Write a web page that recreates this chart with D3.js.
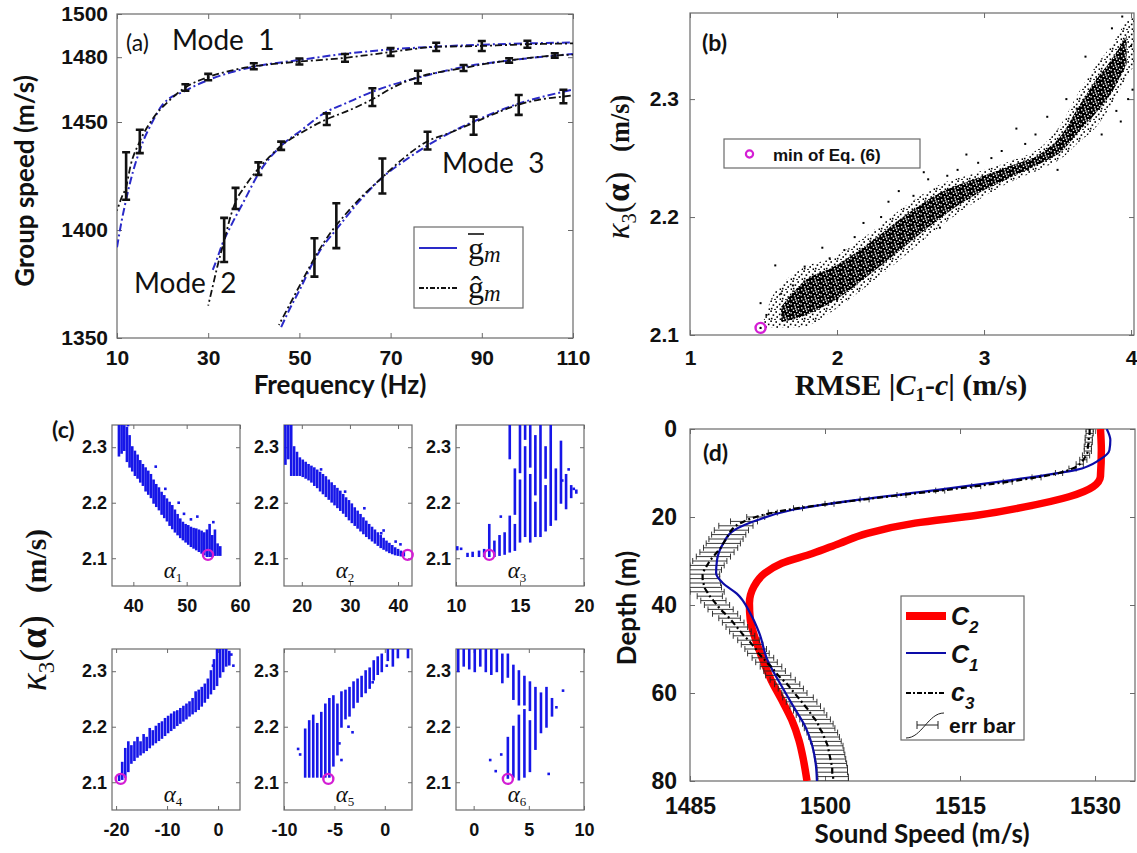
<!DOCTYPE html>
<html>
<head>
<meta charset="utf-8">
<script src="https://cdn.jsdelivr.net/npm/d3@7"></script>
<style>
  body { margin: 0; background: #fff; }
  svg { display: block; }
  text { white-space: pre; }
</style>
</head>
<body>
<svg id="fig" width="1137" height="853"></svg>
<script>
// ---------------- (a) group speed dispersion ----------------
const freqTicks = [10, 30, 50, 70, 90, 110];
const groupTicks = [1350, 1400, 1450, 1480, 1500];

// mean group speed (blue)
const mode1MeanF = [10, 11, 12, 13, 15, 18, 20, 25, 30, 35, 40, 50, 60, 70, 80, 90, 100, 110];
const mode1MeanG = [1392, 1404, 1414, 1423, 1437, 1451, 1458, 1464.5, 1469.4, 1473, 1475.6, 1478.7, 1481.6, 1483.6, 1484.9, 1485.8, 1486.4, 1486.8];
const mode2MeanF = [31, 32, 33, 35, 38, 41, 46, 50, 56, 60, 66, 70, 76, 86, 96, 110];
const mode2MeanG = [1381.5, 1387, 1393, 1402, 1414, 1426, 1439, 1445.5, 1454.8, 1458.5, 1464, 1467, 1470.5, 1475.5, 1478.5, 1481.5];
const mode3MeanF = [46, 48, 50, 53, 55, 58, 63, 68, 73, 78, 83, 88, 93, 98, 103, 110];
const mode3MeanG = [1355, 1364, 1372, 1385, 1392, 1400, 1413, 1424, 1432, 1439, 1445, 1450, 1454.5, 1458.5, 1461.5, 1465];

// estimated group speed (black dash-dot)
const mode1EstF = [10, 11, 12, 13, 15, 18, 21, 25, 30, 35, 40, 45, 50, 55, 60, 65, 70, 75, 80, 85, 90, 95, 100, 105, 110];
const mode1EstG = [1409, 1415, 1420, 1430, 1441, 1452, 1459, 1466, 1470.8, 1473.8, 1475.8, 1477, 1478, 1478.8, 1479.7, 1481, 1482.4, 1483.8, 1484.8, 1485, 1485.2, 1485.6, 1486, 1486.2, 1486.4];
const mode2EstF = [30, 31, 32, 33.5, 35, 36, 38, 41, 43.5, 46, 50, 56, 61, 66, 71, 76, 81, 86, 91, 96, 101, 106, 110];
const mode2EstG = [1365, 1374, 1383, 1395, 1407, 1413, 1420, 1428.4, 1434, 1439, 1444.5, 1451.3, 1455.5, 1460.5, 1466.5, 1470.8, 1473.2, 1475, 1477, 1478.5, 1479.8, 1480.8, 1481.2];
const mode3EstF = [45.5, 48, 50, 53.3, 55, 58, 60, 63, 68, 73, 78, 83, 88, 93, 98, 103, 108, 110];
const mode3EstG = [1356, 1366, 1374, 1387, 1393, 1402, 1407, 1414, 1424, 1433.5, 1441, 1445, 1449.5, 1454, 1458, 1460.5, 1461.8, 1462.3];

// error bars on the estimate
const mode1BarF = [12, 15, 25, 30, 40, 50, 60, 70, 80, 90, 100];
const mode1BarMid = [1425, 1441, 1466, 1470.8, 1475.8, 1478, 1479.7, 1482.4, 1484.8, 1485.2, 1486];
const mode1BarHalf = [11, 5.4, 1.5, 1.5, 1.4, 1.4, 1.8, 1.8, 1.9, 2.3, 1.6];
const mode2BarF = [33.5, 36, 41, 46, 56, 66, 76, 86, 96, 106];
const mode2BarMid = [1395.4, 1414.6, 1428.4, 1439, 1451.3, 1461.5, 1470.8, 1475, 1478.5, 1480.8];
const mode2BarHalf = [10.2, 4.9, 2.9, 1.9, 2.7, 4.1, 2.9, 1.4, 1.0, 1.0];
const mode3BarF = [53.3, 58.1, 68.2, 78.1, 88.2, 98.1, 107.9];
const mode3BarMid = [1387.3, 1402, 1425, 1441.4, 1448.3, 1457.9, 1461.8];
const mode3BarHalf = [8.9, 10.4, 8.1, 4.1, 4.2, 4.6, 3.1];

// ---------------- (b) cost vs. RMSE ----------------
const rmseTicks = [1, 2, 3, 4];
const kappaTicks = [2.1, 2.2, 2.3];
// envelope of the dense cloud: [rmse, lower, upper]
const cloudEdge = [
  [1.50, 2.106, 2.112], [1.55, 2.106, 2.130], [1.65, 2.106, 2.146], [1.77, 2.107, 2.157],
  [1.98, 2.121, 2.166], [2.22, 2.143, 2.186], [2.46, 2.167, 2.209], [2.69, 2.191, 2.227],
  [2.93, 2.212, 2.237], [3.17, 2.229, 2.247], [3.41, 2.242, 2.262], [3.53, 2.250, 2.280],
  [3.64, 2.263, 2.305], [3.76, 2.276, 2.328], [3.88, 2.298, 2.348], [3.97, 2.318, 2.366],
  [4.03, 2.330, 2.372]
];
// core of the cloud: [rmse, lower, upper]
const cloudCore = [
  [1.62, 2.111, 2.124], [1.77, 2.116, 2.145], [1.98, 2.129, 2.158], [2.22, 2.151, 2.178],
  [2.46, 2.175, 2.201], [2.69, 2.198, 2.220], [2.93, 2.218, 2.232], [3.17, 2.233, 2.243],
  [3.41, 2.247, 2.256], [3.53, 2.256, 2.270], [3.64, 2.272, 2.293], [3.76, 2.288, 2.316],
  [3.88, 2.308, 2.336], [3.97, 2.330, 2.354]
];
// scattered samples outside the core
const cloudStray = [
  [1.48, 2.127], [1.52, 2.117], [1.58, 2.159], [1.62, 2.135], [1.70, 2.142], [1.78, 2.158],
  [1.85, 2.150], [1.90, 2.174], [1.95, 2.165], [2.05, 2.172], [2.12, 2.183], [2.18, 2.195],
  [2.30, 2.200], [2.35, 2.213], [2.42, 2.222], [2.52, 2.218], [2.59, 2.238], [2.62, 2.232],
  [2.70, 2.191], [2.75, 2.235], [2.82, 2.240], [2.88, 2.253], [2.96, 2.246], [3.05, 2.250],
  [3.12, 2.256], [3.22, 2.275], [3.28, 2.262], [3.35, 2.270], [3.43, 2.285], [3.50, 2.240],
  [3.56, 2.300], [3.60, 2.280], [3.63, 2.292], [3.69, 2.336], [3.72, 2.300], [3.77, 2.317],
  [3.80, 2.270], [3.87, 2.360], [3.90, 2.290], [3.93, 2.281], [3.94, 2.370], [3.98, 2.300],
  [4.01, 2.308], [4.00, 2.345], [2.25, 2.160], [2.00, 2.130], [1.65, 2.118], [3.30, 2.240]
];
const bestRmse = 1.48, bestKappa = 2.106;

// ---------------- (c) cost vs. each coefficient ----------------
const subKappaTicks = [2.1, 2.2, 2.3];
const alphaTicks = [[40, 50, 60], [20, 30, 40], [10, 15, 20], [-20, -10, 0], [-10, -5, 0], [0, 5, 10]];
const alphaDomains = [[36, 60], [16.3, 42.9], [10, 20], [-20.8, 4.3], [-10, 2.7], [-1.6, 10]];
const alphaBest = [54.0, 42.0, 12.6, -19.1, -5.6, 3.1];
// vertical runs of samples: [alpha, kappa low, kappa high]
const alpha1Runs = [
  [37.3, 2.285, 2.340], [37.8, 2.290, 2.340], [38.3, 2.295, 2.338], [38.8, 2.275, 2.335], [39.3, 2.265, 2.320],
  [39.8, 2.258, 2.300], [40.3, 2.250, 2.292], [40.8, 2.245, 2.285], [41.3, 2.238, 2.275], [41.8, 2.232, 2.268],
  [42.3, 2.222, 2.262], [42.8, 2.216, 2.256], [43.3, 2.210, 2.250], [43.8, 2.200, 2.240], [44.3, 2.194, 2.232],
  [44.8, 2.188, 2.226], [45.3, 2.180, 2.218], [45.8, 2.174, 2.212], [46.3, 2.168, 2.206], [46.8, 2.160, 2.200],
  [47.3, 2.154, 2.194], [47.8, 2.148, 2.186], [48.3, 2.143, 2.178], [48.8, 2.138, 2.170], [49.3, 2.134, 2.164],
  [49.8, 2.130, 2.160], [50.3, 2.126, 2.158], [50.8, 2.122, 2.155], [51.3, 2.119, 2.153], [51.8, 2.116, 2.152],
  [52.3, 2.113, 2.150], [52.8, 2.110, 2.148], [53.3, 2.107, 2.145], [53.8, 2.104, 2.150], [54.3, 2.104, 2.160],
  [54.8, 2.104, 2.140], [55.3, 2.106, 2.150], [55.8, 2.106, 2.125], [56.3, 2.106, 2.120]
];
const alpha1Dots = [[39, 2.34], [44.2, 2.265], [48.5, 2.2], [49.5, 2.18], [52, 2.175], [55, 2.165], [46, 2.225], [50.8, 2.17]];
const alpha2Runs = [
  [16.6, 2.27, 2.34], [17.2, 2.28, 2.34], [17.8, 2.25, 2.34], [18.4, 2.25, 2.30], [19.0, 2.25, 2.29],
  [19.6, 2.25, 2.28], [20.2, 2.248, 2.276], [20.8, 2.245, 2.272], [21.4, 2.242, 2.268], [22.0, 2.238, 2.265],
  [22.6, 2.232, 2.262], [23.2, 2.228, 2.258], [23.8, 2.222, 2.254], [24.4, 2.217, 2.250], [25.0, 2.212, 2.246],
  [25.6, 2.207, 2.240], [26.2, 2.202, 2.235], [26.8, 2.197, 2.230], [27.4, 2.192, 2.225], [28.0, 2.187, 2.220],
  [28.6, 2.182, 2.214], [29.2, 2.176, 2.208], [29.8, 2.170, 2.203], [30.4, 2.165, 2.197], [31.0, 2.160, 2.190],
  [31.6, 2.155, 2.184], [32.2, 2.150, 2.178], [32.8, 2.145, 2.172], [33.4, 2.140, 2.166], [34.0, 2.136, 2.160],
  [34.6, 2.132, 2.155], [35.2, 2.128, 2.150], [35.8, 2.124, 2.145], [36.4, 2.120, 2.140], [37.0, 2.117, 2.135],
  [37.6, 2.114, 2.130], [38.2, 2.111, 2.126], [38.8, 2.109, 2.122], [39.4, 2.107, 2.118], [40.0, 2.106, 2.115],
  [40.6, 2.105, 2.112], [41.2, 2.105, 2.110]
];
const alpha2Dots = [[40.5, 2.125], [37, 2.15], [33, 2.19], [29, 2.22], [24, 2.26], [36.5, 2.145], [39.5, 2.13]];
const alpha3Runs = [
  [10.1, 2.116, 2.120], [10.9, 2.104, 2.108], [11.3, 2.104, 2.110], [11.8, 2.104, 2.112], [12.2, 2.104, 2.115],
  [12.6, 2.104, 2.160], [13.0, 2.104, 2.130], [13.4, 2.106, 2.140], [13.8, 2.108, 2.145], [14.2, 2.112, 2.175],
  [14.2, 2.280, 2.340], [14.6, 2.115, 2.160], [14.6, 2.180, 2.260], [15.0, 2.130, 2.240], [15.0, 2.255, 2.340],
  [15.4, 2.140, 2.300], [15.4, 2.315, 2.340], [15.8, 2.130, 2.250], [15.8, 2.265, 2.340], [16.2, 2.140, 2.200],
  [16.2, 2.215, 2.320], [16.6, 2.140, 2.340], [17.0, 2.150, 2.230], [17.0, 2.245, 2.300], [17.4, 2.160, 2.340],
  [17.8, 2.170, 2.260], [18.2, 2.200, 2.310], [18.6, 2.190, 2.250], [19.0, 2.210, 2.230], [19.4, 2.218, 2.222]
];
const alpha3Dots = [[13.5, 2.175], [18.3, 2.24], [19.2, 2.225], [18.8, 2.26], [10.4, 2.117]];
const alpha4Runs = [
  [-19.4, 2.104, 2.112], [-18.8, 2.106, 2.135], [-18.2, 2.110, 2.160], [-17.6, 2.120, 2.172], [-17.0, 2.135, 2.165],
  [-16.4, 2.140, 2.172], [-15.8, 2.146, 2.180], [-15.2, 2.150, 2.172], [-14.6, 2.154, 2.185], [-14.0, 2.158, 2.180],
  [-13.4, 2.163, 2.196], [-12.8, 2.168, 2.192], [-12.2, 2.172, 2.200], [-11.6, 2.176, 2.205], [-11.0, 2.180, 2.208],
  [-10.4, 2.185, 2.214], [-9.8, 2.190, 2.218], [-9.2, 2.194, 2.222], [-8.6, 2.198, 2.226], [-8.0, 2.203, 2.228],
  [-7.4, 2.207, 2.232], [-6.8, 2.211, 2.236], [-6.2, 2.215, 2.240], [-5.6, 2.220, 2.244], [-5.0, 2.224, 2.250],
  [-4.4, 2.228, 2.262], [-3.8, 2.232, 2.265], [-3.2, 2.238, 2.270], [-2.6, 2.245, 2.276], [-2.0, 2.252, 2.285],
  [-1.4, 2.260, 2.300], [-0.8, 2.268, 2.320], [-0.2, 2.275, 2.340], [0.4, 2.290, 2.340], [1.0, 2.300, 2.340],
  [1.6, 2.310, 2.340], [2.2, 2.312, 2.335]
];
const alpha4Dots = [[3.0, 2.31], [2.6, 2.33], [-1.0, 2.31]];
const alpha5Runs = [
  [-7.9, 2.110, 2.195], [-7.5, 2.110, 2.210], [-7.1, 2.110, 2.220], [-6.7, 2.110, 2.205], [-6.3, 2.110, 2.225],
  [-5.9, 2.110, 2.240], [-5.5, 2.110, 2.250], [-5.1, 2.130, 2.255], [-4.7, 2.150, 2.240], [-4.3, 2.200, 2.262],
  [-3.9, 2.215, 2.265], [-3.5, 2.220, 2.270], [-3.1, 2.235, 2.280], [-2.7, 2.245, 2.285], [-2.3, 2.255, 2.290],
  [-1.9, 2.262, 2.300], [-1.5, 2.270, 2.305], [-1.1, 2.285, 2.318], [-0.7, 2.295, 2.325], [-0.3, 2.300, 2.330],
  [0.3, 2.320, 2.340], [0.8, 2.310, 2.340], [1.3, 2.325, 2.340], [2.3, 2.325, 2.340]
];
const alpha5Dots = [[-8.4, 2.15], [-8.6, 2.16], [-4.3, 2.14], [-4.5, 2.17], [-3.2, 2.19], [-3.6, 2.20], [-1.2, 2.28], [0.2, 2.31]];
const alpha6Runs = [
  [-1.4, 2.300, 2.340], [-0.9, 2.310, 2.340], [-0.4, 2.305, 2.340], [0.1, 2.300, 2.340], [0.6, 2.310, 2.340],
  [1.1, 2.300, 2.340], [1.6, 2.295, 2.340], [2.1, 2.300, 2.340], [2.6, 2.280, 2.330], [3.1, 2.108, 2.180],
  [3.1, 2.290, 2.330], [3.6, 2.110, 2.200], [3.6, 2.250, 2.310], [4.1, 2.105, 2.220], [4.1, 2.240, 2.300],
  [4.6, 2.110, 2.230], [4.6, 2.240, 2.290], [5.1, 2.120, 2.210], [5.1, 2.230, 2.280], [5.6, 2.160, 2.270],
  [6.1, 2.190, 2.260], [6.6, 2.200, 2.270], [7.1, 2.220, 2.250]
];
const alpha6Dots = [[1.5, 2.14], [2.0, 2.12], [7.5, 2.235], [8.1, 2.265], [6.8, 2.115], [2.5, 2.15]];

// ---------------- (d) sound speed profiles ----------------
const soundTicks = [1485, 1500, 1515, 1530];
const depthTicks = [0, 20, 40, 60, 80];
const c2Depth = [0, 4.8, 10.8, 13.1, 15.4, 17.7, 19.6, 21.4, 23.7, 26, 28.3, 30.5, 32.8, 35.8, 39.6, 43.4, 47.9, 52.5, 57, 61.6, 66.1, 70.7, 75.2, 80];
const c2Speed = [1530.6, 1530.7, 1530.6, 1529.8, 1527.1, 1522.2, 1516.9, 1510, 1504.7, 1501.6, 1498.6, 1495.2, 1493.3, 1492.1, 1491.6, 1491.7, 1492.3, 1493.1, 1494, 1495.2, 1496.3, 1497.1, 1497.6, 1498];
const c1Depth = [0, 2.5, 4.8, 7.0, 9.3, 11.6, 13.9, 16.1, 18.4, 20.7, 23, 26, 29.8, 32.8, 35.1, 37.4, 41.9, 46.4, 52.5, 57.8, 63.1, 67.6, 72.1, 76.7, 80];
const c1Speed = [1531.3, 1531.7, 1531.6, 1530.5, 1527.9, 1520.7, 1512.3, 1503.6, 1496.3, 1492.5, 1489.9, 1488.7, 1488, 1487.9, 1488.7, 1490.2, 1491.7, 1492.7, 1493.6, 1495, 1496.5, 1497.8, 1498.6, 1499, 1499.1];
const c3Depth = [0,1,2,3,4,5,6,7,8,9,10,11,12,13,14,15,16,17,18,19,20,21,22,23,24,25,26,27,28,29,30,31,32,33,34,35,36,37,38,39,40,
  41,42,43,44,45,46,47,48,49,50,51,52,53,54,55,56,57,58,59,60,61,62,63,64,65,66,67,68,69,70,71,72,73,74,75,76,77,78,79,80];
const c3Speed = [
  1529.4, 1529.4, 1529.3, 1529.3, 1529.2, 1529.2, 1529.0, 1528.7, 1528.3, 1527.5,
  1526.0, 1523.5, 1520.3, 1516.8, 1512.8, 1508.5, 1504.4, 1500.5, 1497.0, 1494.2,
  1492.3, 1491.0, 1490.1, 1489.6, 1489.3, 1489.0, 1488.7, 1488.4, 1488.0, 1487.6,
  1487.2, 1486.9, 1486.6, 1486.4, 1486.4, 1486.5, 1486.6, 1486.9, 1487.2, 1487.6,
  1488.0, 1488.4, 1488.9, 1489.4, 1489.8, 1490.2, 1490.6, 1491.0, 1491.5, 1491.9,
  1492.3, 1492.6, 1493.1, 1493.5, 1494.0, 1494.4, 1494.8, 1495.3, 1495.8, 1496.2,
  1496.6, 1497.0, 1497.4, 1497.8, 1498.2, 1498.5, 1498.9, 1499.2, 1499.4, 1499.7,
  1499.9, 1500.1, 1500.3, 1500.4, 1500.5, 1500.6, 1500.7, 1500.8, 1500.8, 1500.9, 1500.9
];
const c3Err = [
  0.4, 0.4, 0.4, 0.4, 0.4, 0.4, 0.4, 0.4, 0.4, 0.4, 0.4,
  0.5, 0.5, 0.5, 0.5, 0.5, 0.5, 0.5, 0.5, 0.5,
  1.0, 1.5,
  1.9, 1.9, 1.9, 1.9, 1.9, 1.9, 1.9, 1.9, 1.9, 1.9, 1.9, 1.9, 1.9, 1.9, 1.9, 1.9,
  1.4, 1.4, 1.4, 1.4, 1.4,
  1.2, 1.2, 1.2, 1.2, 1.2, 1.2, 1.2, 1.2,
  1.2, 1.2, 1.2, 1.2, 1.2,
  1.4, 1.4, 1.4, 1.4, 1.4,
  1.7, 1.7, 1.7, 1.7, 1.7, 1.7, 1.7, 1.7, 1.7, 1.7, 1.7, 1.7, 1.7, 1.7, 1.7, 1.7, 1.7, 1.7, 1.7, 1.7
];

// ---------------- drawing ----------------
const svg = d3.select('#fig');
const SANS = "'Liberation Sans', Arial, sans-serif";
const TITLE = "Lato, 'Open Sans', sans-serif";
const SERIF = "'Liberation Serif', 'Times New Roman', serif";
const FRAME = '#6a6a6a';
const BLUE_A = '#2a2ac8';
const MAGENTA = '#d41ed4';
const PT_BLUE = '#1616e8';
const asText = d => String(d);

const defs = svg.append('defs');

function clipFor(id, x, y) {
  const [x0, x1] = x.range(), [y0, y1] = y.range();
  defs.append('clipPath').attr('id', id).append('rect')
    .attr('x', x0).attr('y', y1).attr('width', x1 - x0).attr('height', y0 - y1);
  return `url(#${id})`;
}

// boxed axes with inward ticks on all four sides
function box(x, y, o) {
  const g = svg.append('g');
  const [x0, x1] = x.range(), [y0, y1] = y.range();
  g.append('g').attr('transform', `translate(0,${y0})`)
    .call(d3.axisBottom(x).tickValues(o.xt).tickSize(-o.tl).tickSizeOuter(0).tickPadding(o.xp).tickFormat(o.xf || asText));
  g.append('g').attr('transform', `translate(${x0},0)`)
    .call(d3.axisLeft(y).tickValues(o.yt).tickSize(-o.tl).tickSizeOuter(0).tickPadding(o.yp).tickFormat(o.yf || asText));
  g.append('g').attr('transform', `translate(0,${y1})`)
    .call(d3.axisTop(x).tickValues(o.xt).tickSize(-o.tl).tickSizeOuter(0).tickFormat(''));
  g.append('g').attr('transform', `translate(${x1},0)`)
    .call(d3.axisRight(y).tickValues(o.yt).tickSize(-o.tl).tickSizeOuter(0).tickFormat(''));
  g.selectAll('.domain').remove();
  g.selectAll('.tick line').attr('stroke', FRAME).attr('stroke-width', 1);
  g.selectAll('.tick text').attr('font-family', SANS).attr('font-weight', 'bold')
    .attr('font-size', o.fs).attr('fill', '#111');
  g.append('rect').attr('x', x0).attr('y', y1).attr('width', x1 - x0).attr('height', y0 - y1)
    .attr('fill', 'none').attr('stroke', FRAME).attr('stroke-width', 1.2);
  return g;
}

function label(txt, x, y, o) {
  const t = svg.append('text').attr('x', x).attr('y', y).text(txt)
    .attr('font-family', o.ff || TITLE).attr('font-weight', o.fw || 'bold')
    .attr('font-size', o.fs).attr('fill', '#111').attr('text-anchor', o.anchor || 'start');
  if (o.rot) t.attr('transform', `rotate(-90,${x},${y})`);
  return t;
}

// ===== panel (a) =====
const xa = d3.scaleLinear().domain([10, 110]).range([117, 573]);
const ya = d3.scaleLinear().domain([1350, 1500]).range([338, 14]);
box(xa, ya, { xt: freqTicks, yt: groupTicks, tl: 5, xp: 12, yp: 9, fs: 21 });
const clipA = clipFor('clipA', xa, ya);
const lineA = d3.line().x(d => xa(d[0])).y(d => ya(d[1])).curve(d3.curveMonotoneX);
const gA = svg.append('g').attr('clip-path', clipA);

[[mode1MeanF, mode1MeanG], [mode2MeanF, mode2MeanG], [mode3MeanF, mode3MeanG]].forEach(([f, g]) => {
  gA.append('path').attr('d', lineA(d3.zip(f, g))).attr('fill', 'none')
    .attr('stroke', BLUE_A).attr('stroke-width', 2).attr('stroke-dasharray', '8,3,2,3');
});
[[mode1EstF, mode1EstG], [mode2EstF, mode2EstG], [mode3EstF, mode3EstG]].forEach(([f, g]) => {
  gA.append('path').attr('d', lineA(d3.zip(f, g))).attr('fill', 'none')
    .attr('stroke', '#111').attr('stroke-width', 1.8).attr('stroke-dasharray', '7,3,2,3').attr('stroke-dashoffset', 6);
});
[[mode1BarF, mode1BarMid, mode1BarHalf], [mode2BarF, mode2BarMid, mode2BarHalf], [mode3BarF, mode3BarMid, mode3BarHalf]]
  .forEach(([f, m, h]) => {
    d3.zip(f, m, h).forEach(([fq, mid, half]) => {
      const cx = xa(fq), yt = ya(mid + half), yb = ya(mid - half);
      const p = `M${cx},${yt}V${yb}M${cx - 4},${yt}H${cx + 4}M${cx - 4},${yb}H${cx + 4}`;
      gA.append('path').attr('d', p).attr('stroke', '#111').attr('stroke-width', 2.6).attr('fill', 'none');
    });
  });

label('(a)', 126, 51, { fs: 23, fw: 'normal' });
label('Mode  1', 172, 50, { fs: 28, fw: 'normal' });
label('Mode  2', 134, 293, { fs: 28, fw: 'normal' });
label('Mode  3', 442, 173, { fs: 28, fw: 'normal' });
label('Group speed (m/s)', 34, 181, { fs: 26, anchor: 'middle', rot: true });
label('Frequency (Hz)', 340, 394, { fs: 26, anchor: 'middle' });

// legend (a)
svg.append('rect').attr('x', 414).attr('y', 227).attr('width', 109).attr('height', 81)
  .attr('fill', '#fff').attr('stroke', FRAME).attr('stroke-width', 1.2);
svg.append('line').attr('x1', 419).attr('x2', 457).attr('y1', 248).attr('y2', 248)
  .attr('stroke', BLUE_A).attr('stroke-width', 2.2);
svg.append('line').attr('x1', 419).attr('x2', 457).attr('y1', 288).attr('y2', 288)
  .attr('stroke', '#111').attr('stroke-width', 2).attr('stroke-dasharray', '5,2,2,2');
const lg1 = svg.append('text').attr('x', 468).attr('y', 259).attr('font-family', SERIF).attr('font-size', 32).attr('fill', '#111');
lg1.append('tspan').text('g');
lg1.append('tspan').attr('font-style', 'italic').attr('font-size', 23).attr('dy', 3).text('m');
svg.append('line').attr('x1', 468).attr('x2', 484).attr('y1', 234).attr('y2', 234).attr('stroke', '#111').attr('stroke-width', 1.6);
const lg2 = svg.append('text').attr('x', 468).attr('y', 298).attr('font-family', SERIF).attr('font-size', 32).attr('fill', '#111');
lg2.append('tspan').text('\u011D');
lg2.append('tspan').attr('font-style', 'italic').attr('font-size', 23).attr('dy', 3).text('m');

// ===== panel (b) =====
const xb = d3.scaleLinear().domain([1, 4.02]).range([690, 1134]);
const yb = d3.scaleLinear().domain([2.1, 2.373]).range([335, 13]);
box(xb, yb, { xt: rmseTicks, yt: kappaTicks, tl: 5, xp: 15, yp: 11, fs: 21, yf: d3.format('.1f') });
const clipB = clipFor('clipB', xb, yb);

// stipple fills standing in for the dense point cloud
const sparse = defs.append('pattern').attr('id', 'stippleSparse').attr('patternUnits', 'userSpaceOnUse')
  .attr('width', 11).attr('height', 10);
[[0.3, 0.4], [5.4, 1.2], [8.9, 3.6], [2.6, 4.3], [6.4, 6.2], [0.9, 7.8], [9.6, 8.4], [4.2, 8.9]].forEach(([px, py]) =>
  sparse.append('rect').attr('x', px).attr('y', py).attr('width', 1.6).attr('height', 1.6).attr('fill', '#000'));
const dense = defs.append('pattern').attr('id', 'stippleDense').attr('patternUnits', 'userSpaceOnUse')
  .attr('width', 10).attr('height', 9);
dense.append('rect').attr('width', 10).attr('height', 9).attr('fill', '#000');
[[1.0, 1.2], [4.6, 0.4], [7.8, 2.0], [2.8, 3.6], [6.0, 4.4], [9.0, 5.6], [0.4, 6.2], [3.9, 7.1], [7.2, 7.6], [5.2, 2.4]].forEach(([px, py]) =>
  dense.append('rect').attr('x', px).attr('y', py).attr('width', 1.4).attr('height', 1.4).attr('fill', '#fff'));

const gB = svg.append('g').attr('clip-path', clipB);
const bandB = d3.area().x(d => xb(d[0])).y0(d => yb(d[1])).y1(d => yb(d[2])).curve(d3.curveMonotoneX);
gB.append('path').attr('d', bandB(cloudEdge)).attr('fill', 'url(#stippleSparse)');
gB.append('path').attr('d', bandB(cloudCore)).attr('fill', 'url(#stippleDense)');
gB.selectAll('rect.stray').data(cloudStray).join('rect').attr('class', 'stray')
  .attr('x', d => xb(d[0]) - 1).attr('y', d => yb(d[1]) - 1).attr('width', 2).attr('height', 2).attr('fill', '#000');
svg.append('circle').attr('cx', xb(bestRmse)).attr('cy', yb(bestKappa)).attr('r', 5)
  .attr('fill', 'none').attr('stroke', MAGENTA).attr('stroke-width', 2.4);
svg.append('circle').attr('cx', xb(bestRmse)).attr('cy', yb(bestKappa)).attr('r', 1.2).attr('fill', '#000');

label('(b)', 702, 51, { fs: 23 });
// legend (b)
svg.append('rect').attr('x', 724).attr('y', 139).attr('width', 196).attr('height', 29)
  .attr('fill', '#fff').attr('stroke', FRAME).attr('stroke-width', 1.2);
svg.append('circle').attr('cx', 749.5).attr('cy', 154).attr('r', 3.6)
  .attr('fill', 'none').attr('stroke', MAGENTA).attr('stroke-width', 2.2);
label('min of Eq. (6)', 773, 161, { ff: SANS, fs: 17 });

// kappa axis title used by (b) and (c)
function kappaTitle(cx, cy, s) {
  const t = svg.append('text').attr('transform', `translate(${cx},${cy}) rotate(-90)`)
    .attr('y', 0.3 * s).attr('text-anchor', 'middle').attr('font-family', SERIF).attr('fill', '#111');
  t.append('tspan').attr('font-style', 'italic').attr('font-size', s).text('\u03BA');
  t.append('tspan').attr('font-size', s * 0.62).attr('dy', s * 0.22).text('3');
  t.append('tspan').attr('font-size', s * 1.05).attr('dy', -s * 0.22).text('(');
  t.append('tspan').attr('font-size', s).attr('font-weight', 'bold').text('\u03B1');
  t.append('tspan').attr('font-size', s * 1.05).text(')');
  t.append('tspan').attr('font-size', s * 0.8).attr('font-weight', 'bold').text('   (m/s)');
}
kappaTitle(619, 167, 33);

const xTitleB = svg.append('text').attr('x', 911).attr('y', 395).attr('text-anchor', 'middle')
  .attr('font-family', SERIF).attr('font-weight', 'bold').attr('font-size', 30).attr('fill', '#111');
xTitleB.append('tspan').text('RMSE |');
xTitleB.append('tspan').attr('font-style', 'italic').text('C');
xTitleB.append('tspan').attr('font-size', 19).attr('dy', 6).text('1');
xTitleB.append('tspan').attr('dy', -6).text('-');
xTitleB.append('tspan').attr('font-style', 'italic').text('c');
xTitleB.append('tspan').text('| (m/s)');

// ===== panel (c) =====
const subLefts = [112, 284, 456, 112, 284, 456];
const subTops = [425, 425, 425, 649, 649, 649];
const subRuns = [alpha1Runs, alpha2Runs, alpha3Runs, alpha4Runs, alpha5Runs, alpha6Runs];
const subDots = [alpha1Dots, alpha2Dots, alpha3Dots, alpha4Dots, alpha5Dots, alpha6Dots];
subLefts.forEach((left, i) => {
  const x = d3.scaleLinear().domain(alphaDomains[i]).range([left, left + 128]);
  const y = d3.scaleLinear().domain([2.05, 2.34]).range([subTops[i] + 161, subTops[i]]);
  box(x, y, { xt: alphaTicks[i], yt: subKappaTicks, tl: 4, xp: 13, yp: 5, fs: 18, yf: d3.format('.1f') });
  const g = svg.append('g').attr('clip-path', clipFor('clipC' + i, x, y));
  g.selectAll('rect.run').data(subRuns[i]).join('rect').attr('class', 'run')
    .attr('x', d => x(d[0]) - 1.3).attr('width', 2.6)
    .attr('y', d => y(d[2]) - 1).attr('height', d => y(d[1]) - y(d[2]) + 2).attr('fill', PT_BLUE);
  g.selectAll('rect.dot').data(subDots[i]).join('rect').attr('class', 'dot')
    .attr('x', d => x(d[0]) - 1.3).attr('y', d => y(d[1]) - 1.3).attr('width', 2.6).attr('height', 2.6).attr('fill', PT_BLUE);
  svg.append('circle').attr('cx', x(alphaBest[i])).attr('cy', y(bestKappa)).attr('r', 5)
    .attr('fill', 'none').attr('stroke', MAGENTA).attr('stroke-width', 2.4);
  const lt = svg.append('text').attr('x', left + 61).attr('y', subTops[i] + 153).attr('text-anchor', 'middle')
    .attr('font-family', SERIF).attr('fill', '#111');
  lt.append('tspan').attr('font-style', 'italic').attr('font-size', 23).text('\u03B1');
  lt.append('tspan').attr('font-size', 13).attr('dy', 4).text(String(i + 1));
});
label('(c)', 52, 438, { fs: 23 });
kappaTitle(35, 610, 37);

// ===== panel (d) =====
const xd = d3.scaleLinear().domain([1485, 1534.44]).range([690, 1135]);
const yd = d3.scaleLinear().domain([80, 0]).range([781, 429]);
box(xd, yd, { xt: soundTicks, yt: depthTicks, tl: 5, xp: 17, yp: 13, fs: 23 });
const gD = svg.append('g').attr('clip-path', clipFor('clipD', xd, yd));
const lineD = d3.line().x(d => xd(d[1])).y(d => yd(d[0])).curve(d3.curveMonotoneY);
gD.append('path').attr('d', lineD(d3.zip(c2Depth, c2Speed))).attr('fill', 'none')
  .attr('stroke', '#ff0000').attr('stroke-width', 7.5);
d3.zip(c3Depth, c3Speed, c3Err).forEach(([dp, sp, e]) => {
  const cy = yd(dp), xl = xd(sp - e), xr = xd(sp + e);
  gD.append('path').attr('d', `M${xl},${cy}H${xr}M${xl},${cy - 3}V${cy + 3}M${xr},${cy - 3}V${cy + 3}`)
    .attr('stroke', '#222').attr('stroke-width', 0.9).attr('fill', 'none');
});
gD.append('path').attr('d', lineD(d3.zip(c1Depth, c1Speed))).attr('fill', 'none')
  .attr('stroke', '#0c0ca8').attr('stroke-width', 2.2);
gD.append('path').attr('d', lineD(d3.zip(c3Depth, c3Speed))).attr('fill', 'none')
  .attr('stroke', '#000').attr('stroke-width', 2.2).attr('stroke-dasharray', '6,3,2,3');

label('(d)', 703, 461, { fs: 23 });
label('Depth (m)', 636, 608, { fs: 26, anchor: 'middle', rot: true });
label('Sound Speed (m/s)', 922, 843, { fs: 26, anchor: 'middle' });

// legend (d)
svg.append('rect').attr('x', 901).attr('y', 596).attr('width', 123).attr('height', 144)
  .attr('fill', '#fff').attr('stroke', FRAME).attr('stroke-width', 1.2);
svg.append('line').attr('x1', 906).attr('x2', 946).attr('y1', 616).attr('y2', 616)
  .attr('stroke', '#ff0000').attr('stroke-width', 8);
svg.append('line').attr('x1', 906).attr('x2', 946).attr('y1', 653).attr('y2', 653)
  .attr('stroke', '#0c0ca8').attr('stroke-width', 2.2);
svg.append('line').attr('x1', 906).attr('x2', 946).attr('y1', 693).attr('y2', 693)
  .attr('stroke', '#000').attr('stroke-width', 2.2).attr('stroke-dasharray', '5,2,2,2');
svg.append('path').attr('d', 'M906,738 C922,738 928,713 944,713').attr('fill', 'none').attr('stroke', '#222').attr('stroke-width', 1);
svg.append('path').attr('d', 'M917,725 H938 M917,721 V729 M938,721 V729').attr('fill', 'none').attr('stroke', '#222').attr('stroke-width', 1);
[['C', '2', 625], ['C', '1', 663], ['c', '3', 701]].forEach(([s, n, yy]) => {
  const t = svg.append('text').attr('x', 951).attr('y', yy).attr('font-family', SANS)
    .attr('font-weight', 'bold').attr('font-style', 'italic').attr('font-size', 25).attr('fill', '#111');
  t.append('tspan').text(s);
  t.append('tspan').attr('font-size', 17).attr('dy', 8).text(n);
});
label('err bar', 949, 733, { ff: SANS, fs: 21 });
</script>
</body>
</html>
